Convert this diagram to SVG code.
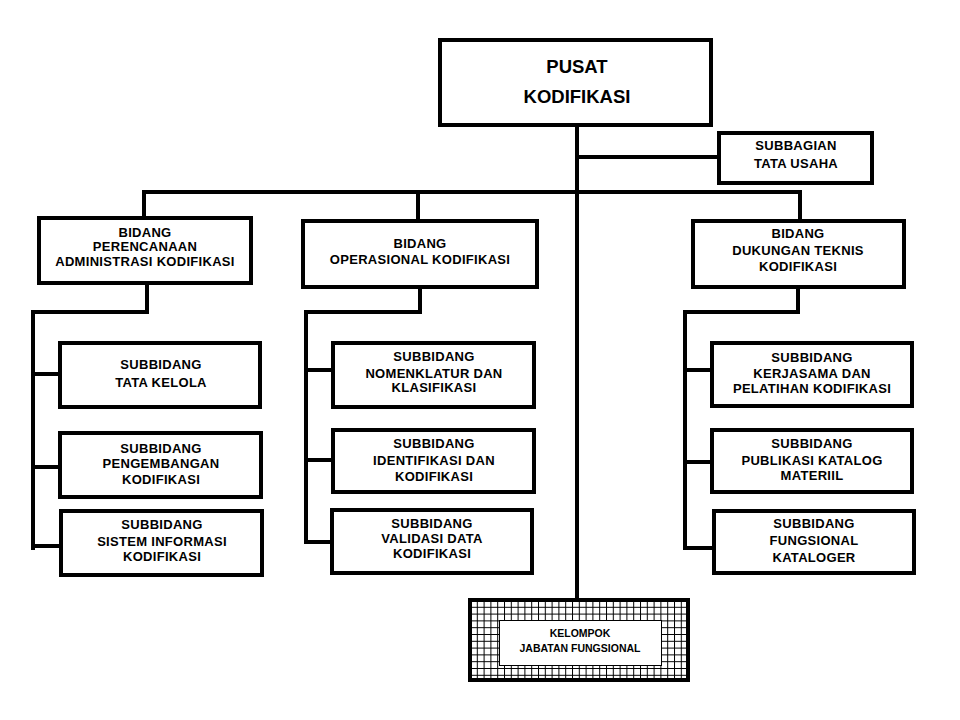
<svg xmlns="http://www.w3.org/2000/svg" width="960" height="720" viewBox="0 0 960 720">
<style>
.box{fill:#fff;stroke:#000;stroke-width:4}
.ln{fill:none;stroke:#000;stroke-width:4;stroke-linecap:square}
text{font-family:"Liberation Sans",Arial,sans-serif;font-weight:bold;font-size:13px;text-anchor:middle;fill:#000;letter-spacing:0.3px}
.big{font-size:18.5px;letter-spacing:0}
.sm{font-size:10.5px;letter-spacing:0}
</style>
<defs>
<pattern id="grid" x="470" y="600" width="6.8" height="6.8" patternUnits="userSpaceOnUse">
<rect width="6.8" height="6.8" fill="#fff"/>
<path d="M0 0.5H6.8M0.5 0V6.8" stroke="#000" stroke-width="1"/>
</pattern>
</defs>
<rect width="960" height="720" fill="#fff"/>
<g id="connectors">
<path class="ln" d="M577 125V600"/>
<path class="ln" d="M577 157H718"/>
<path class="ln" d="M144 218V192H800V220"/>
<path class="ln" d="M418 192V220"/>
<path class="ln" d="M147 283V312H33V548"/>
<path class="ln" d="M33 374H60M33 467H60M33 546H60"/>
<path class="ln" d="M420 287V312H306V542"/>
<path class="ln" d="M306 370H333M306 460H333M306 542H332"/>
<path class="ln" d="M798 287V312H685V548"/>
<path class="ln" d="M685 370H712M685 462H712M685 548H715"/>
</g>
<g id="pusat">
<rect class="box" x="440" y="40" width="271" height="85"/>
<text class="big" x="577" y="73">PUSAT</text>
<text class="big" x="577" y="103">KODIFIKASI</text>
</g>
<g id="subbagian">
<rect class="box" x="719" y="133" width="153" height="50"/>
<text x="796" y="150">SUBBAGIAN</text>
<text x="796" y="168">TATA USAHA</text>
</g>
<g id="bidang-perencanaan">
<rect class="box" x="39" y="218" width="212" height="65"/>
<text x="145" y="237">BIDANG</text>
<text x="145" y="251">PERENCANAAN</text>
<text x="145" y="266">ADMINISTRASI KODIFIKASI</text>
</g>
<g id="bidang-operasional">
<rect class="box" x="303" y="221" width="234" height="66"/>
<text x="420" y="248">BIDANG</text>
<text x="420" y="264">OPERASIONAL KODIFIKASI</text>
</g>
<g id="bidang-dukungan">
<rect class="box" x="693" y="221" width="211" height="66"/>
<text x="798" y="238">BIDANG</text>
<text x="798" y="255">DUKUNGAN TEKNIS</text>
<text x="798" y="271">KODIFIKASI</text>
</g>
<g id="sub-tata-kelola">
<rect class="box" x="60" y="343" width="200" height="64"/>
<text x="161" y="369">SUBBIDANG</text>
<text x="161" y="387">TATA KELOLA</text>
</g>
<g id="sub-pengembangan">
<rect class="box" x="60" y="433" width="201" height="64"/>
<text x="161" y="453">SUBBIDANG</text>
<text x="161" y="468">PENGEMBANGAN</text>
<text x="161" y="484">KODIFIKASI</text>
</g>
<g id="sub-sistem-informasi">
<rect class="box" x="61" y="511" width="201" height="64"/>
<text x="162" y="529">SUBBIDANG</text>
<text x="162" y="546">SISTEM INFORMASI</text>
<text x="162" y="561">KODIFIKASI</text>
</g>
<g id="sub-nomenklatur">
<rect class="box" x="333" y="343" width="201" height="64"/>
<text x="434" y="361">SUBBIDANG</text>
<text x="434" y="378">NOMENKLATUR DAN</text>
<text x="434" y="392">KLASIFIKASI</text>
</g>
<g id="sub-identifikasi">
<rect class="box" x="333" y="430" width="201" height="62"/>
<text x="434" y="448">SUBBIDANG</text>
<text x="434" y="465">IDENTIFIKASI DAN</text>
<text x="434" y="481">KODIFIKASI</text>
</g>
<g id="sub-validasi">
<rect class="box" x="332" y="510" width="200" height="63"/>
<text x="432" y="528">SUBBIDANG</text>
<text x="432" y="543">VALIDASI DATA</text>
<text x="432" y="558">KODIFIKASI</text>
</g>
<g id="sub-kerjasama">
<rect class="box" x="712" y="343" width="200" height="63"/>
<text x="812" y="362">SUBBIDANG</text>
<text x="812" y="378">KERJASAMA DAN</text>
<text x="812" y="393">PELATIHAN KODIFIKASI</text>
</g>
<g id="sub-publikasi">
<rect class="box" x="712" y="430" width="200" height="62"/>
<text x="812" y="448">SUBBIDANG</text>
<text x="812" y="465">PUBLIKASI KATALOG</text>
<text x="812" y="480">MATERIIL</text>
</g>
<g id="sub-fungsional">
<rect class="box" x="714" y="511" width="200" height="62"/>
<text x="814" y="528">SUBBIDANG</text>
<text x="814" y="545">FUNGSIONAL</text>
<text x="814" y="562">KATALOGER</text>
</g>
<g id="kelompok-jabatan">
<rect x="470" y="600" width="218" height="80" fill="url(#grid)" stroke="#000" stroke-width="4"/>
<rect x="499.5" y="620.5" width="162" height="45" fill="#fff" stroke="#000" stroke-width="1"/>
<text class="sm" x="580" y="637">KELOMPOK</text>
<text class="sm" x="580" y="652">JABATAN FUNGSIONAL</text>
</g>
</svg>
